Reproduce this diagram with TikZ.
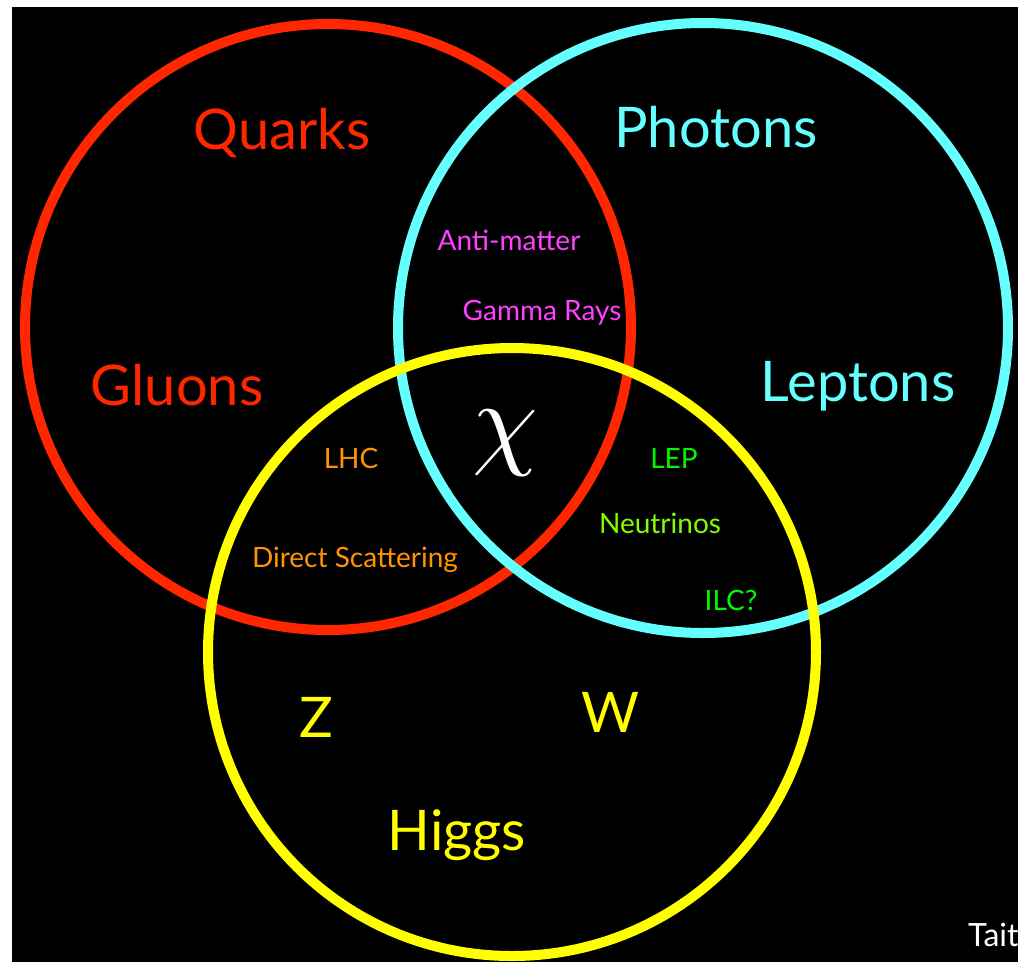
\documentclass[tikz,border=0pt]{standalone}
\usepackage{fontspec}
\setmainfont{Lato}
\definecolor{cred}{RGB}{255,38,0}
\definecolor{ccyan}{RGB}{102,255,255}
\definecolor{cyel}{RGB}{255,255,0}
\definecolor{cmag}{RGB}{255,64,255}
\definecolor{corange}{RGB}{255,147,0}
\definecolor{cgreen}{RGB}{0,249,0}
\definecolor{clime}{RGB}{128,255,0}
\tikzset{
  ring/.style={line width=10pt},
  big/.style={inner sep=0pt, font=\fontsize{56}{56}\selectfont},
  small/.style={inner sep=0pt, font=\fontsize{28}{28}\selectfont},
}
\begin{document}
\begin{tikzpicture}[x=1pt,y=-1pt]
\useasboundingbox (0,0) rectangle (1018,962);
\fill[white] (0,0) rectangle (1018,962);
\begin{scope}
\clip (12,7) rectangle (1018,962);
\fill[black] (12,7) rectangle (1018,962);
\draw[ring, cred] (328,327) circle (303);
\draw[ring, ccyan] (703,328) circle (305);
\draw[ring, cyel] (512,652) circle (304);

\node[big, text=cred] (quarks) at (282,133) {Quarks};
\node[big, text=cred] (gluons) at (177,385) {Gluons};
\node[big, text=ccyan] (photons) at (716,127) {Photons};
\node[big, text=ccyan] (leptons) at (858,386) {Leptons};
\node[big, text=cyel] (higgs) at (457,835) {Higgs};
\node[big, text=cyel] (z) at (316,717) {Z};
\node[big, text=cyel] (w) at (610,712) {W};

\node[small, text=cmag] (anti) at (509,240) {Anti-matter};
\node[small, text=cmag] (gamma) at (542,313) {Gamma Rays};
\node[small, text=corange] (lhc) at (351,458) {LHC};
\node[small, text=corange] (direct) at (355,560) {Direct Scattering};
\node[small, text=cgreen] (lep) at (674,458) {LEP};
\node[small, text=clime] (neut) at (660,523) {Neutrinos};
\node[small, text=cgreen] (ilc) at (731,600) {ILC?};

\node[inner sep=0pt, text=white, scale=10.5] (chi) at (505,443) {$\chi$};
\node[inner sep=0pt, anchor=west, text=white, font=\fontsize{32}{32}\selectfont] (tait) at (968,935) {Tait};
\end{scope}
\end{tikzpicture}
\end{document}
